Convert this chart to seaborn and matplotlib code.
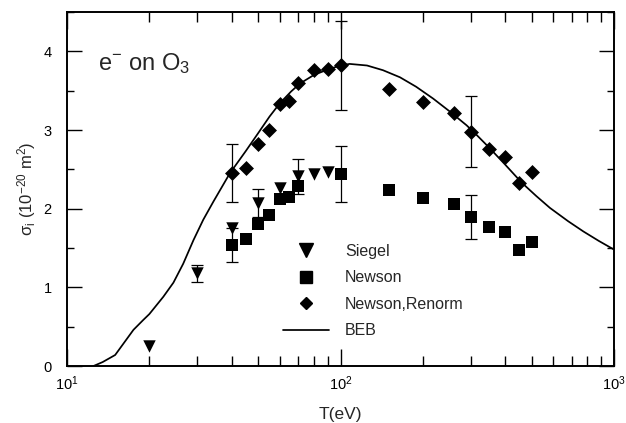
import numpy as np
import pandas as pd
import matplotlib
matplotlib.use("Agg")
import matplotlib.pyplot as plt
import seaborn as sns
from matplotlib.lines import Line2D
from matplotlib.ticker import LogLocator, MultipleLocator, NullFormatter

# ---- data ----
siegel_T = [20, 30, 40, 50, 60, 70, 80, 90]
siegel_s = [0.26, 1.18, 1.75, 2.07, 2.26, 2.41, 2.44, 2.46]
siegel_err = [0, 0.11, 0, 0.18, 0, 0.22, 0, 0]

newson_T = [40, 45, 50, 55, 60, 65, 70, 100, 150, 200, 260, 300, 350, 400, 450, 500]
newson_s = [1.54, 1.61, 1.80, 1.92, 2.12, 2.15, 2.29, 2.44, 2.24, 2.14, 2.06, 1.90, 1.77, 1.70, 1.48, 1.58]
newson_err = [0.22, 0, 0, 0, 0, 0, 0, 0.36, 0, 0, 0, 0.28, 0, 0, 0, 0]

renorm_T = [40, 45, 50, 55, 60, 65, 70, 80, 90, 100, 150, 200, 260, 300, 350, 400, 450, 500]
renorm_s = [2.45, 2.52, 2.82, 3.00, 3.33, 3.375, 3.60, 3.76, 3.78, 3.82, 3.52, 3.36, 3.22, 2.98, 2.76, 2.655, 2.32, 2.47]
renorm_err = [0.37, 0, 0, 0, 0, 0, 0, 0, 0, 0.57, 0, 0, 0, 0.45, 0, 0, 0, 0]

beb_T = [12.5, 13.5, 15, 17.5, 19, 20, 22.5, 24.5, 26.6, 29, 31.5, 34.3, 39.4, 45, 50, 55,
         60, 66, 71, 80, 90, 100, 108, 125, 143, 165, 189, 218, 251, 289, 314, 351, 400,
         460, 520, 583, 680, 773, 880, 1000]
beb_s = [0.0, 0.05, 0.14, 0.46, 0.585, 0.66, 0.88, 1.06, 1.30, 1.60, 1.86, 2.09, 2.45, 2.73, 2.96, 3.17,
         3.34, 3.49, 3.59, 3.70, 3.77, 3.82, 3.84, 3.82, 3.76, 3.67, 3.55, 3.40, 3.235, 3.06, 2.94, 2.77, 2.56,
         2.33, 2.16, 2.01, 1.84, 1.71, 1.59, 1.48]

series_labels = ["Siegel", "Newson", "Newson,Renorm", "BEB"]

# ---- style ----
sns.set_theme(style="ticks")
plt.rcParams["font.family"] = ["Liberation Sans", "DejaVu Sans"]
plt.rcParams["mathtext.fontset"] = "custom"
plt.rcParams["mathtext.rm"] = "Liberation Sans"
plt.rcParams["mathtext.it"] = "Liberation Sans:italic"
plt.rcParams["mathtext.sf"] = "Liberation Sans"

fig = plt.figure(figsize=(6.26, 4.23), dpi=100)
ax = fig.add_axes([67/626, 1-366/423, (614-67)/626, (366-12)/423])

df_beb = pd.DataFrame({"T": beb_T, "s": beb_s})
sns.lineplot(data=df_beb, x="T", y="s", ax=ax, color="black", lw=1.25, zorder=2)

def errs(T, s, e):
    T = np.array(T); s = np.array(s); e = np.array(e)
    m = e > 0
    ax.errorbar(T[m], s[m], yerr=e[m], fmt="none", ecolor="black",
                elinewidth=0.9, capsize=4.5, capthick=0.9, zorder=3)

errs(siegel_T, siegel_s, siegel_err)
errs(newson_T, newson_s, newson_err)
errs(renorm_T, renorm_s, renorm_err)

sns.scatterplot(x=newson_T, y=newson_s, ax=ax, marker="s", s=75, color="black",
                edgecolor="black", linewidth=0, zorder=4)
sns.scatterplot(x=renorm_T, y=renorm_s, ax=ax, marker="D", s=58, color="black",
                edgecolor="black", linewidth=0, zorder=4)
sns.scatterplot(x=siegel_T, y=siegel_s, ax=ax, marker="v", s=80, color="black",
                edgecolor="black", linewidth=0, zorder=5)

ax.set_xscale("log")
ax.set_xlim(10, 1000)
ax.set_ylim(0, 4.5)
ax.xaxis.set_major_locator(LogLocator(base=10, numticks=5))
ax.xaxis.set_minor_locator(LogLocator(base=10, subs=np.arange(2, 10), numticks=20))
ax.xaxis.set_minor_formatter(NullFormatter())
ax.yaxis.set_major_locator(MultipleLocator(1))
ax.yaxis.set_minor_locator(MultipleLocator(0.5))

ax.tick_params(which="both", direction="in", top=True, right=True, colors="black",
               labelsize=10.5, width=1.0)
ax.tick_params(axis="x", which="major", length=12, pad=6)
ax.tick_params(axis="x", which="minor", length=7)
ax.tick_params(axis="y", which="major", length=11, pad=11)
ax.tick_params(axis="y", which="minor", length=5)
for sp in ax.spines.values():
    sp.set_linewidth(1.4)
    sp.set_color("black")
    sp.set_visible(True)

ax.set_xlabel("T(eV)", fontsize=12.5, labelpad=10)
ax.set_ylabel(r"σ$_\mathregular{i}$ (10$^{-20}$ m$^2$)", fontsize=12, labelpad=4)

ax.text(0.057, 0.855, r"e$^{-}$ on O$_{3}$", transform=ax.transAxes,
        fontsize=17, ha="left", va="center")

handles = [
    Line2D([], [], marker="v", ls="none", color="black", markersize=9.5),
    Line2D([], [], marker="s", ls="none", color="black", markersize=8.5),
    Line2D([], [], marker="D", ls="none", color="black", markersize=6.5),
    Line2D([], [], color="black", lw=1.25),
]
leg = ax.legend(handles, series_labels, loc="upper left", bbox_to_anchor=(0.383, 0.363),
                frameon=False, fontsize=11.5, handlelength=2.9, handletextpad=1.0,
                labelspacing=0.72, borderaxespad=0)

fig.savefig("out.png", dpi=100)
